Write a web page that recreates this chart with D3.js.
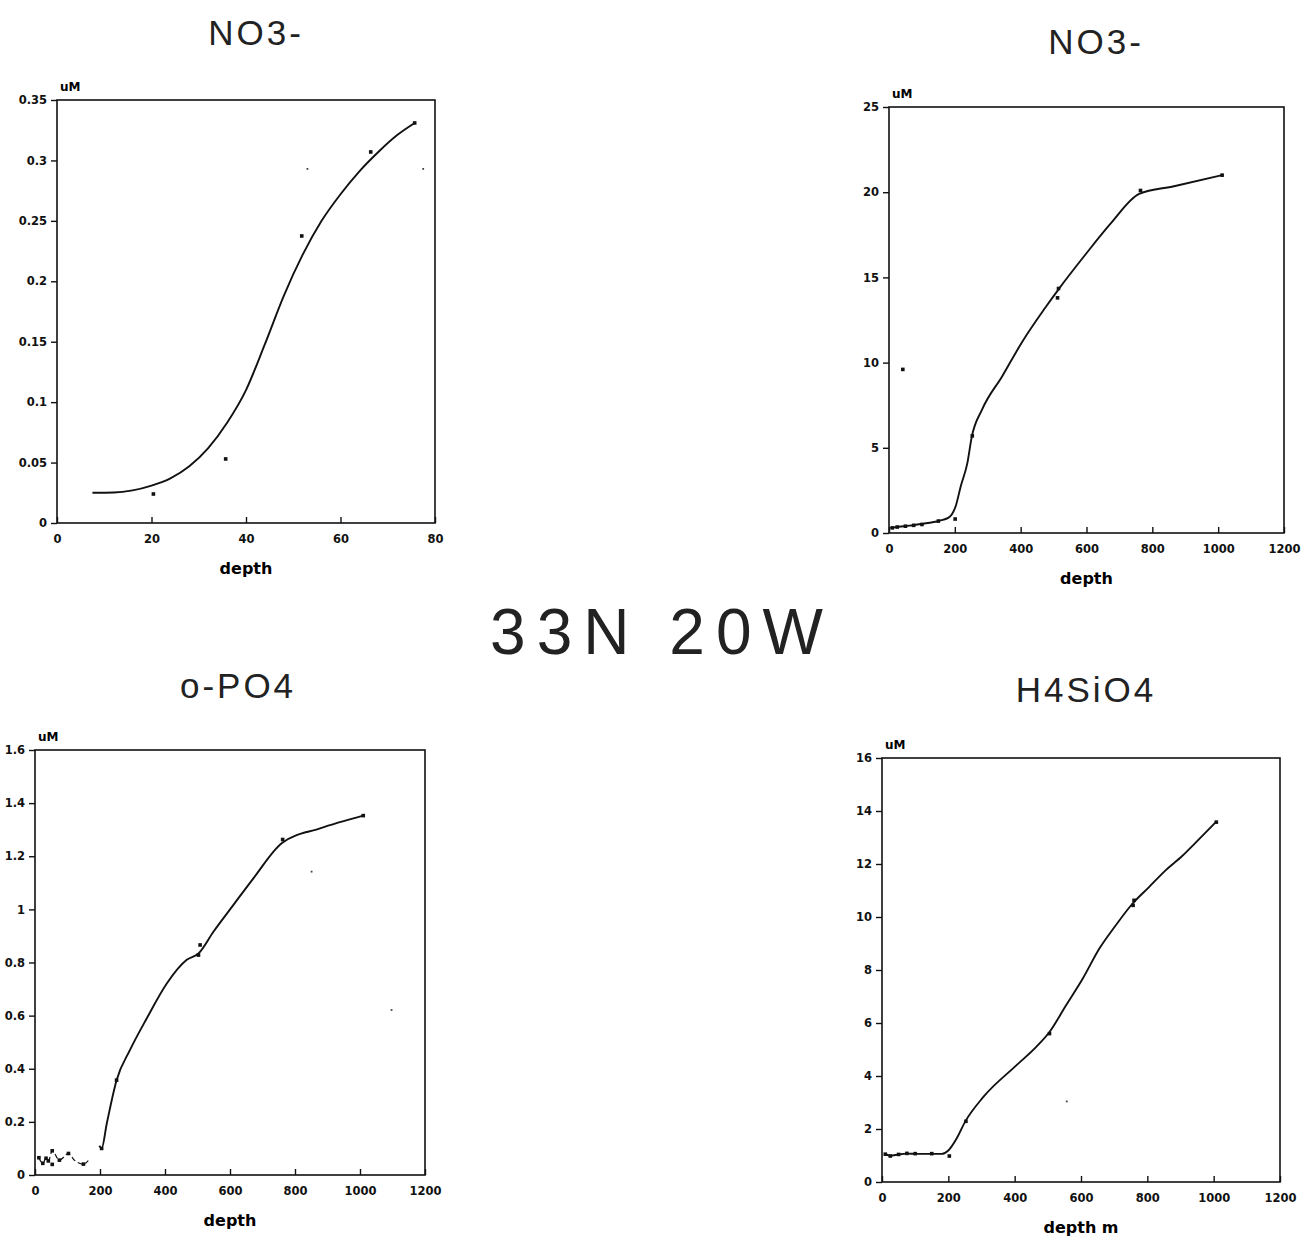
<!DOCTYPE html>
<html>
<head>
<meta charset="utf-8">
<script src="https://cdn.jsdelivr.net/npm/d3@7"></script>
<style>
  body { margin: 0; background: #fff; }
  svg { display: block; }
</style>
</head>
<body>
<svg id="chart" width="1304" height="1236"></svg>
<script>
// ---- data (depth, concentration uM) ----

// panel 1: NO3- upper 80 m
var no3SurfCurve = [[7.5,0.025],[12,0.0252],[16,0.027],[20,0.031],[24,0.037],[28,0.047],[32,0.062],[36,0.083],[40,0.110],[44,0.148],[48,0.188],[52,0.222],[56,0.250],[60,0.272],[64,0.291],[68,0.307],[72,0.321],[75.7,0.331]];
var no3SurfPts = [[20.4,0.024],[35.7,0.053],[51.8,0.2375],[66.4,0.307],[75.7,0.331]];
var no3SurfSpecks = [[53,0.293],[77.5,0.293]];
var no3SurfYTicks = [0,0.05,0.1,0.15,0.2,0.25,0.3,0.35];
var no3SurfXTicks = [0,20,40,60,80];

// panel 2: NO3- to 1000 m
var no3DeepCurve = [[4,0.3],[30,0.37],[62,0.43],[97.5,0.53],[153,0.72],[181,0.9],[203,1.6],[218,2.75],[238,4.1],[251,5.6],[283,7.25],[344,9.2],[404,11.2],[474,13.2],[515,14.3],[595,16.3],[675,18.2],[760,19.9],[866,20.35],[1012,21.0]];
var no3DeepPts = [[10,0.3],[25,0.35],[50,0.4],[75,0.45],[100,0.5],[150,0.7],[201,0.82],[42,9.6],[253,5.7],[515,14.35],[512,13.8],[764,20.1],[1012,21.0]];
var no3DeepYTicks = [0,5,10,15,20,25];
var depthTicks = [0,200,400,600,800,1000,1200];

// panel 3: o-PO4
var po4Surf = [[12,0.065],[24,0.044],[34,0.063],[41,0.053],[53,0.091],[75,0.056],[103,0.081],[121,0.056],[149,0.041],[164,0.054]];
var po4SurfPts = [[12,0.065],[24,0.044],[34,0.063],[41,0.053],[53,0.091],[53,0.04],[75,0.056],[103,0.081],[149,0.041]];
var po4Curve = [[198,0.11],[205,0.10],[221,0.195],[251,0.357],[292,0.47],[344,0.59],[405,0.72],[467,0.81],[503,0.834],[549,0.916],[610,1.016],[672,1.117],[760,1.25],[877,1.305],[1010,1.353]];
var po4Pts = [[205,0.10],[251,0.357],[503,0.828],[508,0.866],[762,1.263],[1010,1.353]];
var po4Specks = [[851,1.142],[1097,0.621]];
var po4YTicks = [0,0.2,0.4,0.6,0.8,1,1.2,1.4,1.6];

// panel 4: H4SiO4
var sioCurve = [[10,1.05],[25,0.99],[50,1.04],[75,1.07],[105,1.06],[155,1.06],[180,1.06],[200,1.19],[225,1.64],[250,2.26],[305,3.2],[405,4.4],[465,5.1],[505,5.66],[555,6.67],[605,7.67],[655,8.8],[705,9.69],[755,10.5],[805,11.13],[855,11.76],[905,12.3],[945,12.8],[1005,13.56]];
var sioPts = [[10,1.05],[25,0.98],[50,1.04],[75,1.08],[100,1.07],[150,1.07],[203,0.98],[253,2.29],[505,5.6],[760,10.63],[757,10.44],[1008,13.58]];
var sioSpecks = [[557,3.04]];
var sioYTicks = [0,2,4,6,8,10,12,14,16];

var svg = d3.select("#chart");
var font = "'Liberation Sans', Arial, sans-serif";
var boldFont = "'DejaVu Sans', Verdana, sans-serif";
var fmt = function(d) { return String(+d.toFixed(2)); };

function styleAxis(s) {
  s.select(".domain").remove();
  s.selectAll("line").attr("stroke", "#111").attr("stroke-width", 1.4);
  s.selectAll("text").attr("font-family", boldFont).attr("font-weight", "bold")
    .attr("font-size", 11.5).attr("fill", "#111");
}

/**
 * Draws one profile panel: frame, axes, curve and sampled points
 */
function drawPanel(p) {
  var x = d3.scaleLinear().domain(p.xDomain).range([p.left, p.right]);
  var y = d3.scaleLinear().domain(p.yDomain).range([p.bottom, p.top]);
  var g = svg.append("g");

  // frame
  g.append("rect")
    .attr("x", p.left).attr("y", p.top)
    .attr("width", p.right - p.left).attr("height", p.bottom - p.top)
    .attr("fill", "none").attr("stroke", "#111").attr("stroke-width", 1.6);

  // y axis: ticks pointing out
  var yAxis = d3.axisLeft(y).tickValues(p.yTicks).tickSize(6).tickPadding(4).tickFormat(fmt);
  g.append("g").attr("transform", "translate(" + p.left + ",0)").call(yAxis).call(styleAxis);

  // x axis: ticks pointing in
  var xAxis = d3.axisBottom(x).tickValues(p.xTicks).tickSizeInner(-6).tickSizeOuter(0)
    .tickPadding(12).tickFormat(fmt);
  g.append("g").attr("transform", "translate(0," + p.bottom + ")").call(xAxis).call(styleAxis);

  g.append("text").attr("x", p.left + 3).attr("y", p.top - 9)
    .attr("font-family", boldFont).attr("font-weight", "bold").attr("font-size", 12)
    .text("uM");
  g.append("text").attr("x", (p.left + p.right) / 2).attr("y", p.bottom + 51)
    .attr("text-anchor", "middle")
    .attr("font-family", boldFont).attr("font-weight", "bold").attr("font-size", 16)
    .text(p.xLabel);
  g.append("text").attr("x", p.titleX).attr("y", p.titleY)
    .attr("text-anchor", "middle").attr("font-family", font).attr("font-size", 35)
    .attr("letter-spacing", 3).attr("fill", "#222")
    .text(p.title);

  var line = d3.line()
    .x(function(d) { return x(d[0]); })
    .y(function(d) { return y(d[1]); })
    .curve(d3.curveMonotoneX);

  p.curves.forEach(function(c) {
    g.append("path").datum(c.data)
      .attr("d", line)
      .attr("fill", "none").attr("stroke", "#111")
      .attr("stroke-width", c.width || 1.9)
      .attr("stroke-dasharray", c.dash || null);
  });

  g.selectAll(".pt").data(p.points).enter().append("rect")
    .attr("x", function(d) { return x(d[0]) - 1.8; })
    .attr("y", function(d) { return y(d[1]) - 1.8; })
    .attr("width", 3.6).attr("height", 3.6).attr("fill", "#111");

  g.selectAll(".speck").data(p.specks || []).enter().append("rect")
    .attr("x", function(d) { return x(d[0]) - 0.9; })
    .attr("y", function(d) { return y(d[1]) - 0.9; })
    .attr("width", 1.8).attr("height", 1.8).attr("fill", "#444");
}

drawPanel({
  left: 57, right: 435, top: 100, bottom: 523,
  xDomain: [0, 80], yDomain: [0, 0.35],
  xTicks: no3SurfXTicks, yTicks: no3SurfYTicks,
  xLabel: "depth", title: "NO3-", titleX: 256, titleY: 45,
  curves: [{data: no3SurfCurve}],
  points: no3SurfPts, specks: no3SurfSpecks
});

drawPanel({
  left: 889, right: 1284, top: 107, bottom: 533,
  xDomain: [0, 1200], yDomain: [0, 25],
  xTicks: depthTicks, yTicks: no3DeepYTicks,
  xLabel: "depth", title: "NO3-", titleX: 1096, titleY: 54,
  curves: [{data: no3DeepCurve}],
  points: no3DeepPts
});

drawPanel({
  left: 35, right: 425, top: 750, bottom: 1175,
  xDomain: [0, 1200], yDomain: [0, 1.6],
  xTicks: depthTicks, yTicks: po4YTicks,
  xLabel: "depth", title: "o-PO4", titleX: 238, titleY: 698,
  curves: [{data: po4Curve}, {data: po4Surf, width: 1.2, dash: "5,3"}],
  points: po4Pts.concat(po4SurfPts), specks: po4Specks
});

drawPanel({
  left: 882, right: 1280, top: 758, bottom: 1182,
  xDomain: [0, 1200], yDomain: [0, 16],
  xTicks: depthTicks, yTicks: sioYTicks,
  xLabel: "depth m", title: "H4SiO4", titleX: 1086, titleY: 702,
  curves: [{data: sioCurve}],
  points: sioPts, specks: sioSpecks
});

// station label
svg.append("text").attr("x", 662).attr("y", 654)
  .attr("text-anchor", "middle").attr("font-family", font)
  .attr("font-size", 64).attr("letter-spacing", 11).attr("fill", "#222")
  .text("33N 20W");
</script>
</body>
</html>
